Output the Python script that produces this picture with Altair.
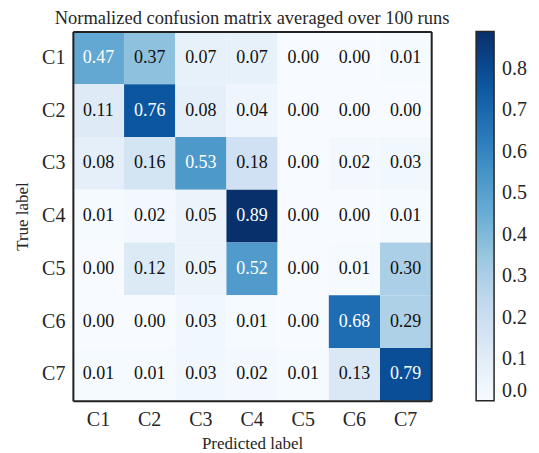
import altair as alt
import pandas as pd

classes = ["C1", "C2", "C3", "C4", "C5", "C6", "C7"]
row_C1 = [0.47, 0.37, 0.07, 0.07, 0.00, 0.00, 0.01]
row_C2 = [0.11, 0.76, 0.08, 0.04, 0.00, 0.00, 0.00]
row_C3 = [0.08, 0.16, 0.53, 0.18, 0.00, 0.02, 0.03]
row_C4 = [0.01, 0.02, 0.05, 0.89, 0.00, 0.00, 0.01]
row_C5 = [0.00, 0.12, 0.05, 0.52, 0.00, 0.01, 0.30]
row_C6 = [0.00, 0.00, 0.03, 0.01, 0.00, 0.68, 0.29]
row_C7 = [0.01, 0.01, 0.03, 0.02, 0.01, 0.13, 0.79]
rows = [row_C1, row_C2, row_C3, row_C4, row_C5, row_C6, row_C7]
cbar_ticks = [0.0, 0.1, 0.2, 0.3, 0.4, 0.5, 0.6, 0.7, 0.8]

blues = ["#f7fbff", "#deebf7", "#c6dbef", "#9ecae1", "#6baed6",
         "#4292c6", "#2171b5", "#08519c", "#08306b"]
vmax = max(max(r) for r in rows)
stops = [vmax * i / (len(blues) - 1) for i in range(len(blues))]

records = []
for t, r in zip(classes, rows):
    for p, v in zip(classes, r):
        records.append({"true": t, "pred": p, "value": v, "label": f"{v:.2f}"})
df = pd.DataFrame(records)

FONT = "Liberation Serif"
TXT = "#262626"
FRAME = "#222222"
frame_kw = dict(domain=True, domainColor=FRAME, domainWidth=2, zindex=1, ticks=False)

x = alt.X("pred:N", sort=classes, title="Predicted label",
          scale=alt.Scale(paddingInner=0, paddingOuter=0),
          axis=alt.Axis(labelAngle=0, labelPadding=9,
                        labelFontSize=20, titleFontSize=17, titlePadding=6,
                        labelFont=FONT, titleFont=FONT, labelColor=TXT,
                        titleColor=TXT, titleFontWeight="normal", **frame_kw))
y = alt.Y("true:N", sort=classes, title="True label",
          scale=alt.Scale(paddingInner=0, paddingOuter=0),
          axis=alt.Axis(labelPadding=8,
                        labelFontSize=20, titleFontSize=17, titlePadding=10,
                        labelFont=FONT, titleFont=FONT, labelColor=TXT,
                        titleColor=TXT, titleFontWeight="normal", **frame_kw))

base = alt.Chart(df)
heat = base.mark_rect().encode(
    x=x, y=y,
    color=alt.Color("value:Q",
                    scale=alt.Scale(domain=stops, range=blues),
                    legend=alt.Legend(title=None, orient="right", offset=45,
                                      padding=0, gradientLength=370,
                                      gradientThickness=18,
                                      gradientStrokeColor=TXT,
                                      gradientStrokeWidth=1.5,
                                      values=cbar_ticks, format=".1f",
                                      labelFontSize=20, labelFont=FONT,
                                      labelColor=TXT, labelOffset=8,
                                      labelOverlap=False)),
)
text = base.mark_text(font=FONT, fontSize=18).encode(
    x=alt.X("pred:N", sort=classes, title=None,
            axis=alt.Axis(orient="top", labels=False, **frame_kw)),
    y=alt.Y("true:N", sort=classes, title=None,
            axis=alt.Axis(orient="right", labels=False, **frame_kw)),
    text="label:N",
    color=alt.condition(alt.datum.value > vmax / 2, alt.value("white"), alt.value("#111111")),
)

chart = (heat + text).resolve_axis(x="independent", y="independent").properties(
    width=359, height=370,
    title=alt.TitleParams("Normalized confusion matrix averaged over 100 runs",
                          font=FONT, fontSize=18.5, fontWeight="normal",
                          color=TXT, offset=4, anchor="middle"),
    autosize=alt.AutoSizeParams(type="none"),
    padding={"left": 65, "top": 23, "right": 100, "bottom": 55},
).configure_view(stroke=None).configure(
    background="white", font=FONT
).configure_text(font=FONT)

chart.save("out.html", embed_options={"renderer": "svg", "actions": False})
